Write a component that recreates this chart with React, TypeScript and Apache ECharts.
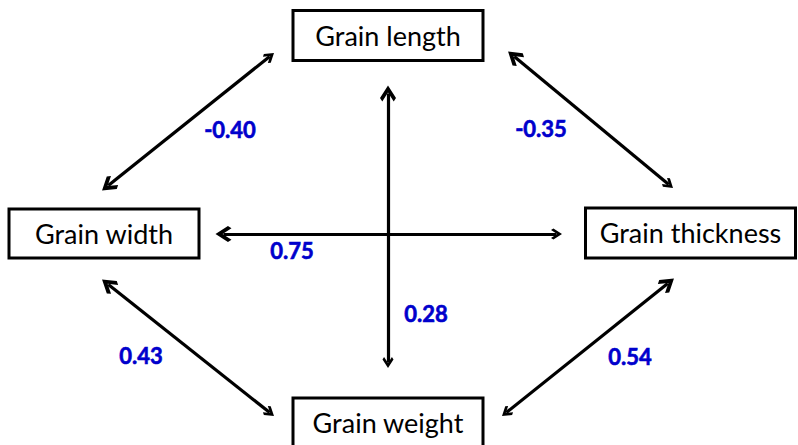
import React, { useEffect, useRef } from "react";
import * as echarts from "echarts";

// ---- data ----
const traits = ["Grain length", "Grain width", "Grain thickness", "Grain weight"];
const linkFrom = ["Grain width", "Grain length", "Grain width", "Grain length", "Grain width", "Grain thickness"];
const linkTo = ["Grain length", "Grain thickness", "Grain thickness", "Grain weight", "Grain weight", "Grain weight"];
const correlations = [-0.40, -0.35, 0.75, 0.28, 0.43, 0.54];

// ---- layout (chart space = pixel space of the 798x445 canvas) ----
const W = 798;
const H = 445;
const boxCenter: Record<string, [number, number]> = {
  "Grain length": [388, 35.5],
  "Grain width": [104, 233.5],
  "Grain thickness": [690.5, 233],
  "Grain weight": [388, 423],
};
const boxSize: Record<string, [number, number]> = {
  "Grain length": [190, 50],
  "Grain width": [190, 49],
  "Grain thickness": [210, 50],
  "Grain weight": [190, 50],
};
// arrow tips [x1, y1, x2, y2]
const arrowTips: [number, number, number, number][] = [
  [104, 189, 274, 53],
  [510, 53, 673, 188],
  [218, 234, 562, 234],
  [388, 88, 388, 368],
  [104, 281, 274, 416],
  [672, 280, 502, 416],
];
const labelPos: [number, number][] = [
  [230, 129],
  [541, 128],
  [292, 250],
  [426, 313],
  [141, 355],
  [630, 356],
];

const chevron = "path://M7,0 L14,7 L12,9 L7,4 L2,9 L0,7 Z";
const ARROW_W = 16;
const ARROW_H = 11;

function shorten(t: [number, number, number, number]): [[number, number], [number, number]] {
  const [x1, y1, x2, y2] = t;
  const dx = x2 - x1;
  const dy = y2 - y1;
  const len = Math.hypot(dx, dy);
  const ux = dx / len;
  const uy = dy / len;
  const d = ARROW_H / 2;
  return [
    [x1 + ux * d, y1 + uy * d],
    [x2 - ux * d, y2 - uy * d],
  ];
}

export default function App() {
  const ref = useRef<HTMLDivElement>(null);
  useEffect(() => {
    if (!ref.current) return;
    const chart = echarts.init(ref.current, undefined, { renderer: "svg" });
    const option: any = {
      animation: false,
      backgroundColor: "#ffffff",
      grid: { left: 0, right: 0, top: 0, bottom: 0 },
      xAxis: { type: "value", min: 0, max: W, show: false },
      yAxis: { type: "value", min: 0, max: H, inverse: true, show: false },
      series: [
        {
          type: "lines",
          coordinateSystem: "cartesian2d",
          polyline: false,
          symbol: [chevron, chevron],
          symbolSize: [ARROW_W, ARROW_H],
          lineStyle: { color: "#000", width: 3.2, opacity: 1 },
          data: linkFrom.map((f, i) => ({
            name: f + " - " + linkTo[i],
            coords: shorten(arrowTips[i]),
          })),
          z: 2,
        },
        {
          type: "custom",
          coordinateSystem: "cartesian2d",
          data: traits.map((t) => [boxCenter[t][0], boxCenter[t][1], boxSize[t][0], boxSize[t][1]]),
          renderItem: (params: any, api: any) => {
            const c = api.coord([api.value(0), api.value(1)]);
            const w = api.value(2);
            const h = api.value(3);
            const name = traits[params.dataIndex];
            return {
              type: "group",
              children: [
                {
                  type: "rect",
                  shape: { x: c[0] - w / 2, y: c[1] - h / 2, width: w, height: h },
                  style: { fill: "#fff", stroke: "#000", lineWidth: 3 },
                },
                {
                  type: "text",
                  x: c[0],
                  y: c[1] - 0.5,
                  style: {
                    text: name,
                    fill: "#000",
                    font: "27px Lato",
                    align: "center",
                    verticalAlign: "middle",
                  },
                },
              ],
            };
          },
          z: 3,
        },
        {
          type: "custom",
          coordinateSystem: "cartesian2d",
          data: correlations.map((c, i) => [labelPos[i][0], labelPos[i][1], c]),
          renderItem: (params: any, api: any) => {
            const c = api.coord([api.value(0), api.value(1)]);
            return {
              type: "text",
              x: c[0],
              y: c[1],
              style: {
                text: correlations[params.dataIndex].toFixed(2),
                fill: "#0000CC",
                font: "bold 22px Lato",
                align: "center",
                verticalAlign: "middle",
                stroke: "#0000CC",
                lineWidth: 0.6,
              },
            };
          },
          z: 4,
        },
      ],
    };
    chart.setOption(option);
    return () => chart.dispose();
  }, []);
  return (
    <div
      ref={ref}
      style={{ position: "fixed", left: 0, top: 0, width: W, height: H }}
    />
  );
}
